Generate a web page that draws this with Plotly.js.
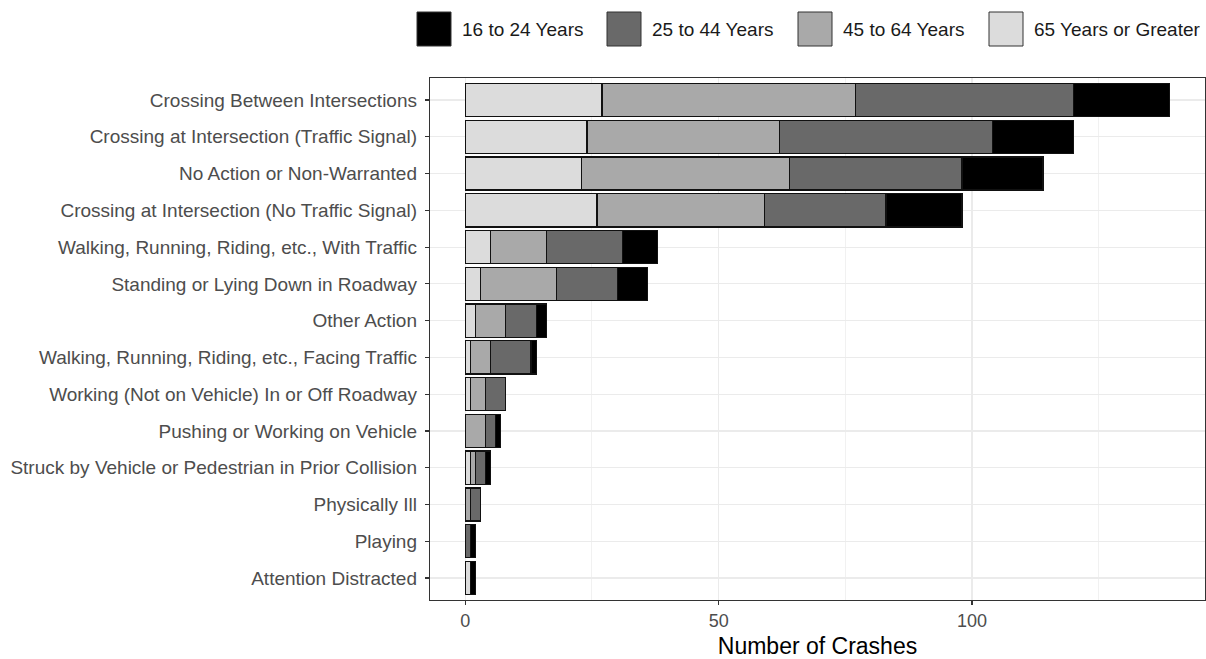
<!DOCTYPE html>
<html>
<head>
<meta charset="utf-8">
<script src="https://cdn.plot.ly/plotly-3.0.1.min.js"></script>
<style>html,body{margin:0;padding:0;background:#fff;}#chart{width:1206px;height:659px;}</style>
</head>
<body>
<div id="chart"></div>
<script>
// Categories, top to bottom
const categories = [
  "Crossing Between Intersections",
  "Crossing at Intersection (Traffic Signal)",
  "No Action or Non-Warranted",
  "Crossing at Intersection (No Traffic Signal)",
  "Walking, Running, Riding, etc., With Traffic",
  "Standing or Lying Down in Roadway",
  "Other Action",
  "Walking, Running, Riding, etc., Facing Traffic",
  "Working (Not on Vehicle) In or Off Roadway",
  "Pushing or Working on Vehicle",
  "Struck by Vehicle or Pedestrian in Prior Collision",
  "Physically Ill",
  "Playing",
  "Attention Distracted"
];
// Series values (number of crashes), same order as categories
const age65plus = [27, 24, 23, 26, 5, 3, 2, 1, 1, 0, 1, 0, 0, 1];
const age45to64 = [50, 38, 41, 33, 11, 15, 6, 4, 3, 4, 1, 1, 0, 0];
const age25to44 = [43, 42, 34, 24, 15, 12, 6, 8, 4, 2, 2, 2, 1, 0];
const age16to24 = [19, 16, 16, 15, 7, 6, 2, 1, 0, 1, 1, 0, 1, 1];
const seriesNames = ["16 to 24 Years", "25 to 44 Years", "45 to 64 Years", "65 Years or Greater"];
const xTickVals = [0, 50, 100];

const colors = {
  "16 to 24 Years": "#000000",
  "25 to 44 Years": "#696969",
  "45 to 64 Years": "#A9A9A9",
  "65 Years or Greater": "#DCDCDC"
};
const valuesByName = {
  "16 to 24 Years": age16to24,
  "25 to 44 Years": age25to44,
  "45 to 64 Years": age45to64,
  "65 Years or Greater": age65plus
};

// stack order: lightest first (leftmost)
const stackOrder = ["65 Years or Greater", "45 to 64 Years", "25 to 44 Years", "16 to 24 Years"];
const traces = stackOrder.map(name => ({
  type: "bar",
  orientation: "h",
  name: name,
  y: categories,
  x: valuesByName[name],
  marker: {color: colors[name], line: {color: "#111111", width: 1.3}},
  width: 0.9,
  showlegend: false,
  hoverinfo: "x+y+name"
}));

const W = 1206, H = 659;
const M = {l: 430, r: 1, t: 78, b: 59};
const pw = W - M.l - M.r, ph = H - M.t - M.b;
const px2x = p => (p - M.l) / pw;
const py2y = p => (H - M.b - p) / ph;

// custom legend (large keys as in reference)
const legendKeyX = [417, 607, 798, 989];
const shapes = [];
const annotations = [];
seriesNames.forEach((name, i) => {
  shapes.push({
    type: "rect", xref: "paper", yref: "paper",
    x0: px2x(legendKeyX[i]), x1: px2x(legendKeyX[i] + 34),
    y0: py2y(46), y1: py2y(12),
    fillcolor: colors[name], line: {color: "#333333", width: 1}
  });
  annotations.push({
    xref: "paper", yref: "paper",
    x: px2x(legendKeyX[i] + 43), y: py2y(29),
    xanchor: "left", yanchor: "middle",
    text: name, showarrow: false,
    font: {family: "Liberation Sans, Arial, sans-serif", size: 19, color: "#1a1a1a"}
  });
});

const maxTotal = Math.max(...categories.map((c, i) => age65plus[i] + age45to64[i] + age25to44[i] + age16to24[i]));
const pad = maxTotal * 0.05;

const layout = {
  width: W, height: H,
  margin: M,
  barmode: "stack",
  paper_bgcolor: "#ffffff",
  plot_bgcolor: "#ffffff",
  font: {family: "Liberation Sans, Arial, sans-serif", color: "#4D4D4D", size: 19},
  xaxis: {
    range: [-pad, maxTotal + pad],
    tickvals: xTickVals,
    ticktext: xTickVals.map(String),
    showgrid: true, gridcolor: "#EBEBEB", gridwidth: 1.2,
    minor: {dtick: 25, tick0: 0, showgrid: true, gridcolor: "#EEEEEE", gridwidth: 0.8, ticks: ""},
    zeroline: false,
    showline: true, mirror: true, linecolor: "#333333", linewidth: 1.2,
    ticks: "outside", ticklen: 4, tickcolor: "#333333", tickwidth: 1.2,
    tickfont: {size: 18, color: "#4D4D4D"},
    title: {text: "Number of Crashes", font: {size: 23, color: "#000000"}, standoff: 8}
  },
  yaxis: {
    type: "category",
    categoryorder: "array",
    categoryarray: categories,
    range: [categories.length - 0.4, -0.6],
    showgrid: true, gridcolor: "#EBEBEB", gridwidth: 1.2,
    zeroline: false,
    showline: true, mirror: true, linecolor: "#333333", linewidth: 1.2,
    ticks: "outside", ticklen: 4, tickcolor: "#333333", tickwidth: 1.2,
    tickfont: {size: 19, color: "#4D4D4D"},
    ticklabelstandoff: 4
  },
  shapes: shapes,
  annotations: annotations
};

Plotly.newPlot("chart", traces, layout, {displayModeBar: false, staticPlot: true});
</script>
</body>
</html>
